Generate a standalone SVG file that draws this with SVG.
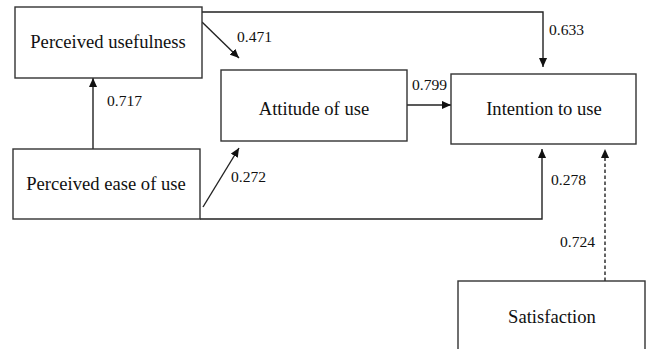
<svg xmlns="http://www.w3.org/2000/svg" width="646" height="349" viewBox="0 0 646 349">
<style>
.box{fill:#fff;stroke:#333;stroke-width:1.4}
.lbl{font-size:18.6px;fill:#111;text-anchor:middle}
.num{font-size:15.6px;fill:#111}
.ln{fill:none;stroke:#222;stroke-width:1.4}
.dash{stroke-dasharray:3.5,2.5}
</style>
<defs>
<marker id="ah" viewBox="0 0 10 10" refX="10" refY="5" markerWidth="9" markerHeight="9" markerUnits="userSpaceOnUse" orient="auto">
<path d="M0,0.5 L10,5 L0,9.5 Z" fill="#111"/>
</marker>
</defs>
<rect width="646" height="349" fill="#fff"/>
<g font-family="Liberation Serif, Tinos, DejaVu Serif, serif">
<g id="connectors">
<line class="ln" x1="93" y1="149" x2="93" y2="78" marker-end="url(#ah)"/>
<line class="ln" x1="202" y1="22" x2="239" y2="58" marker-end="url(#ah)"/>
<polyline class="ln" points="202,12 543,12 543,67" marker-end="url(#ah)"/>
<line class="ln" x1="407" y1="105" x2="451" y2="105" marker-end="url(#ah)"/>
<line class="ln" x1="203" y1="207" x2="239" y2="148" marker-end="url(#ah)"/>
<polyline class="ln" points="200,219 542,219 542,149" marker-end="url(#ah)"/>
<line class="ln dash" x1="605" y1="281" x2="605" y2="149" marker-end="url(#ah)"/>
<text class="num" x="107" y="106">0.717</text>
<text class="num" x="237" y="42">0.471</text>
<text class="num" x="549" y="35">0.633</text>
<text class="num" x="412" y="90">0.799</text>
<text class="num" x="231" y="182">0.272</text>
<text class="num" x="551" y="185">0.278</text>
<text class="num" x="560" y="247">0.724</text>
</g>
<g id="pu">
<rect class="box" x="15" y="7" width="187" height="71"/>
<text class="lbl" x="108" y="48">Perceived usefulness</text>
</g>
<g id="att">
<rect class="box" x="221" y="70" width="186" height="71"/>
<text class="lbl" x="314" y="115">Attitude of use</text>
</g>
<g id="int">
<rect class="box" x="451" y="74" width="185" height="70"/>
<text class="lbl" x="544" y="115">Intention to use</text>
</g>
<g id="peou">
<rect class="box" x="13" y="149" width="187" height="70"/>
<text class="lbl" x="106" y="190">Perceived ease of use</text>
</g>
<g id="sat">
<rect class="box" x="458" y="281" width="187" height="80"/>
<text class="lbl" x="552" y="323">Satisfaction</text>
</g>
</g>
</svg>
